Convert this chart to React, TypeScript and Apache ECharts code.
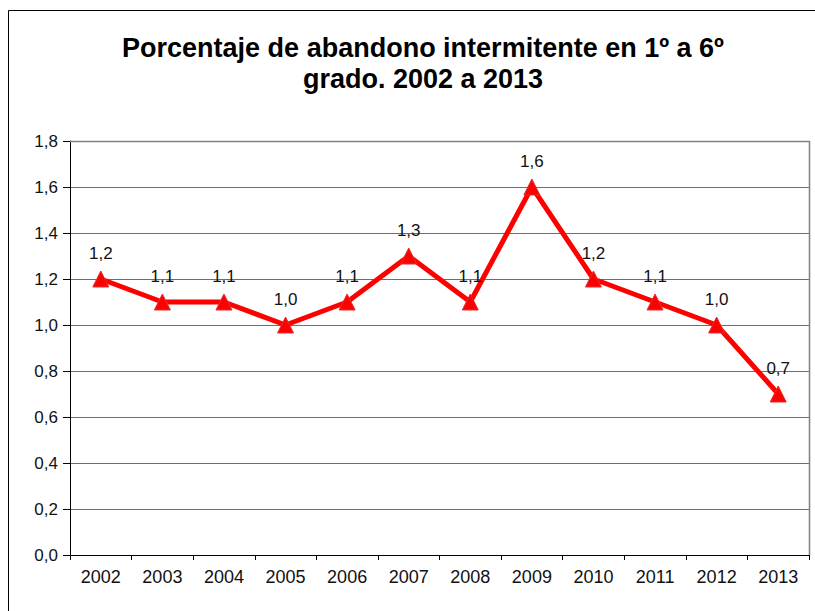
import React, { useEffect, useRef } from "react";
import * as echarts from "echarts";

const years = ["2002", "2003", "2004", "2005", "2006", "2007", "2008", "2009", "2010", "2011", "2012", "2013"];
const values = [1.2, 1.1, 1.1, 1.0, 1.1, 1.3, 1.1, 1.6, 1.2, 1.1, 1.0, 0.7];
const titleLines = ["Porcentaje de abandono intermitente en 1º a 6º", "grado. 2002 a 2013"];

const fmt = (v: number) => v.toFixed(1).replace(".", ",");
const FONT = "'Liberation Sans', Arial, sans-serif";

export default function App() {
  const ref = useRef<HTMLDivElement>(null);
  useEffect(() => {
    const chart = echarts.init(ref.current!, null, { renderer: "svg" });
    chart.setOption({
      animation: false,
      backgroundColor: "#ffffff",
      title: {
        text: titleLines.join("\n"),
        left: 418,
        textAlign: "center",
        top: 27,
        textStyle: {
          fontFamily: FONT,
          fontSize: 27,
          fontWeight: "bold",
          color: "#000",
          lineHeight: 31,
        },
      },
      graphic: [
        {
          type: "polyline",
          shape: { points: [[8.5, 611], [8.5, 10.5], [815, 10.5]] },
          style: { stroke: "#000", lineWidth: 1, fill: "none" },
          silent: true,
        },
        {
          type: "polyline",
          shape: { points: [[70, 141.5], [809.5, 141.5], [809.5, 555]] },
          style: { stroke: "#808080", lineWidth: 1.5, fill: "none" },
          silent: true,
          z: 10,
        },
      ],
      grid: { left: 70, top: 141, width: 739, height: 414, containLabel: false },
      xAxis: {
        type: "category",
        data: years,
        boundaryGap: true,
        axisLine: { lineStyle: { color: "#000", width: 1 } },
        axisTick: { show: true, length: 5, inside: false, interval: 0, lineStyle: { color: "#000" } },
        axisLabel: {
          fontFamily: FONT,
          fontSize: 18,
          color: "#111",
          margin: 13,
          interval: 0,
        },
        splitLine: { show: false },
      },
      yAxis: {
        type: "value",
        min: 0,
        max: 1.8,
        interval: 0.2,
        axisLine: { show: true, lineStyle: { color: "#000", width: 1 } },
        axisTick: { show: true, length: 7, lineStyle: { color: "#000" } },
        axisLabel: {
          fontFamily: FONT,
          fontSize: 17,
          color: "#111",
          margin: 12,
          formatter: (v: number) => fmt(v),
        },
        splitLine: { show: true, lineStyle: { color: "#6e6e6e", width: 1 } },
      },
      series: [
        {
          type: "line",
          data: values,
          symbol: "triangle",
          symbolSize: 16,
          lineStyle: { color: "#ff0000", width: 5 },
          itemStyle: { color: "#ff0000", borderColor: "#e03030", borderWidth: 1 },
          label: {
            show: true,
            position: "top",
            distance: 9,
            fontFamily: FONT,
            fontSize: 17,
            color: "#111",
            formatter: (p: any) => fmt(p.value),
          },
          z: 5,
        },
      ],
    });
    return () => chart.dispose();
  }, []);
  return (
    <div
      ref={ref}
      style={{ position: "fixed", left: 0, top: 0, width: 815, height: 611 }}
    />
  );
}
